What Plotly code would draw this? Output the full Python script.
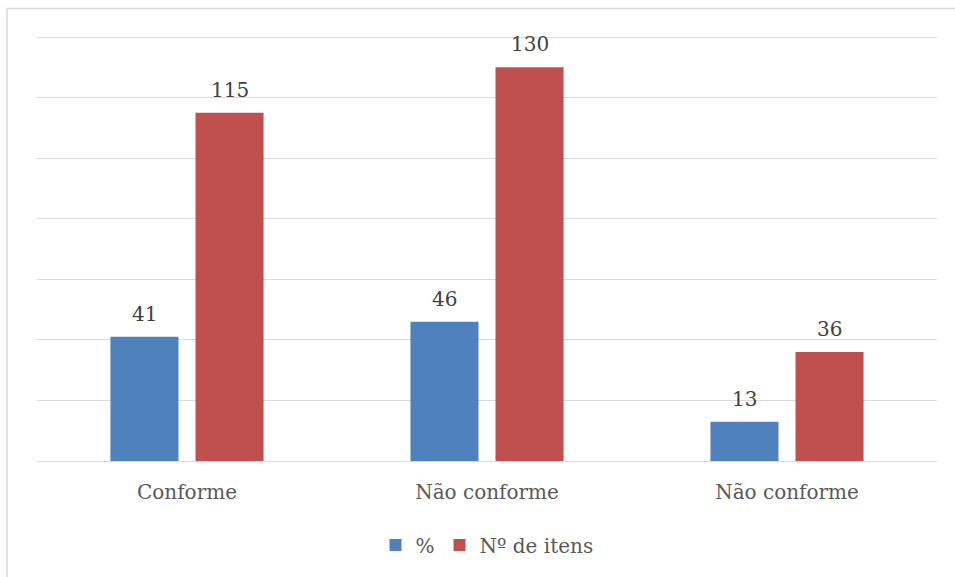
import plotly.graph_objects as go

categories = ["Conforme", "Não conforme", "Não conforme"]
pct_values = [41, 46, 13]
item_values = [115, 130, 36]
series_names = ["%", "Nº de itens"]

FONT = "DejaVu Serif"
positions = list(range(len(categories)))
colors = ["#4f81bd", "#c0504d"]
BARGAP = 0.433
# half of one bar slot, in category units, for centring value labels on bars
slot_half = (1 - BARGAP) / 4

fig = go.Figure()
for name, vals, col in zip(series_names, [pct_values, item_values], colors):
    fig.add_trace(go.Bar(
        x=positions, y=vals, name=name,
        marker=dict(color=col, line=dict(width=0)),
    ))

annotations = []
for k, vals in enumerate([pct_values, item_values]):
    off = (2 * k - 1) * slot_half
    for p, v in zip(positions, vals):
        annotations.append(dict(
            x=p + off, y=v, xref="x", yref="y", text=str(v), showarrow=False,
            yanchor="bottom", yshift=9,
            font=dict(family=FONT, size=20, color="#404040"),
        ))

fig.update_layout(
    width=955, height=577,
    margin=dict(l=37, r=18, t=34, b=113),
    paper_bgcolor="white", plot_bgcolor="white",
    barmode="group", bargap=BARGAP, bargroupgap=0.2,
    font=dict(family=FONT, size=20, color="#595959"),
    showlegend=True,
    legend=dict(orientation="h", x=0.5, xanchor="center", y=-0.197, yanchor="middle",
                font=dict(family=FONT, size=20, color="#595959"),
                itemwidth=30, traceorder="normal"),
    xaxis=dict(tickmode="array", tickvals=positions, ticktext=categories,
               range=[-0.5, len(categories) - 0.5], showgrid=False, showline=False,
               zeroline=False, ticks="outside", ticklen=13, tickcolor="rgba(0,0,0,0)",
               tickfont=dict(family=FONT, size=20, color="#595959")),
    yaxis=dict(range=[0, 141], tickvals=[0, 20, 40, 60, 80, 100, 120, 140],
               showticklabels=False, showgrid=True,
               gridcolor="#d9d9d9", gridwidth=1, zeroline=True,
               zerolinecolor="#d9d9d9", zerolinewidth=1, showline=False),
    annotations=annotations,
    shapes=[dict(type="rect", xref="paper", yref="paper",
                 x0=-0.0333, x1=1.2, y0=-0.5, y1=1.06,
                 line=dict(color="#d9d9d9", width=1.5), fillcolor="rgba(0,0,0,0)",
                 layer="below")],
)

fig.write_html("out.html")
